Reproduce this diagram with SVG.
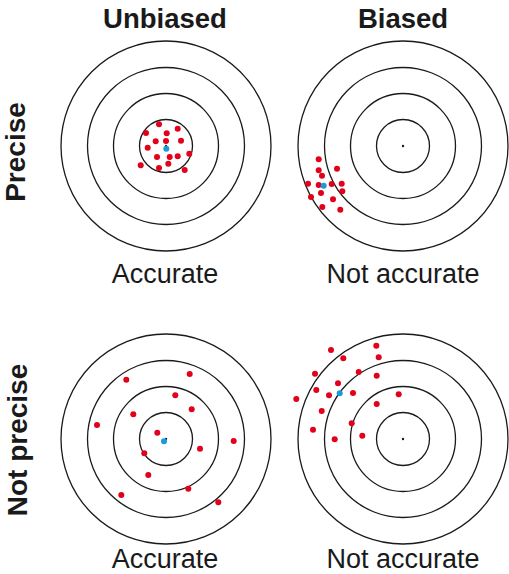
<svg xmlns="http://www.w3.org/2000/svg" width="509" height="574" viewBox="0 0 509 574">
<style>
.ring{fill:none;stroke:#1a1a1a;stroke-width:1.3}
.r{fill:#e2001a}
.b{fill:#1a9ad8}
.c{fill:#1a1a1a}
.hd{font-family:"Liberation Sans",Arial,sans-serif;font-weight:bold;font-size:27.5px;fill:#1a1a1a;text-anchor:middle}
.vl{font-family:"Liberation Sans",Arial,sans-serif;font-weight:bold;font-size:28px;fill:#1a1a1a;text-anchor:middle}
.lb{font-family:"Liberation Sans",Arial,sans-serif;font-size:27px;fill:#1a1a1a;text-anchor:middle}
</style>
<defs>
<g id="target">
<circle class="ring" r="105"/>
<circle class="ring" r="78.5"/>
<circle class="ring" r="52.5"/>
<circle class="ring" r="26.5"/>
<circle class="c" r="1.2"/>
</g>
</defs>
<rect width="509" height="574" fill="#fff"/>
<g id="headers">
<text class="hd" x="165" y="28">Unbiased</text>
<text class="hd" x="403" y="28">Biased</text>
<text class="vl" transform="translate(25,152) rotate(-90)">Precise</text>
<text class="vl" transform="translate(27,440) rotate(-90)">Not precise</text>
</g>
<g id="t1">
<use href="#target" x="166" y="146"/>
<circle class="r" cx="159" cy="124.3" r="3"/>
<circle class="r" cx="146" cy="133" r="3"/>
<circle class="r" cx="166.7" cy="133.3" r="3"/>
<circle class="r" cx="177.7" cy="128.7" r="3"/>
<circle class="r" cx="155.7" cy="141.3" r="3"/>
<circle class="r" cx="166" cy="141" r="3"/>
<circle class="r" cx="181" cy="140.7" r="3"/>
<circle class="r" cx="147.7" cy="147.7" r="3"/>
<circle class="r" cx="157" cy="157" r="3"/>
<circle class="r" cx="169.7" cy="157" r="3"/>
<circle class="r" cx="177.7" cy="156.3" r="3"/>
<circle class="r" cx="189.3" cy="153.7" r="3"/>
<circle class="r" cx="140.7" cy="165.3" r="3"/>
<circle class="r" cx="159" cy="168" r="3"/>
<circle class="r" cx="168.3" cy="163.7" r="3"/>
<circle class="r" cx="184.7" cy="170" r="3"/>
<circle class="b" cx="166.3" cy="148.7" r="3"/>
<text class="lb" x="165" y="283">Accurate</text>
</g>
<g id="t2">
<use href="#target" x="403" y="146"/>
<circle class="r" cx="318.7" cy="159.3" r="3"/>
<circle class="r" cx="318.7" cy="170.3" r="3"/>
<circle class="r" cx="337" cy="168.7" r="3"/>
<circle class="r" cx="322" cy="175.7" r="3"/>
<circle class="r" cx="308" cy="183.7" r="3"/>
<circle class="r" cx="318.7" cy="185" r="3"/>
<circle class="r" cx="331.7" cy="184" r="3"/>
<circle class="r" cx="341.7" cy="183.7" r="3"/>
<circle class="r" cx="342.3" cy="191.3" r="3"/>
<circle class="r" cx="321" cy="193" r="3"/>
<circle class="r" cx="311" cy="197" r="3"/>
<circle class="r" cx="333" cy="199.3" r="3"/>
<circle class="r" cx="322.3" cy="207" r="3"/>
<circle class="r" cx="340.3" cy="209.7" r="3"/>
<circle class="b" cx="323.7" cy="185.7" r="3"/>
<text class="lb" x="403" y="283">Not accurate</text>
</g>
<g id="t3">
<use href="#target" x="166" y="439"/>
<circle class="r" cx="189.7" cy="374" r="3"/>
<circle class="r" cx="126.3" cy="379.7" r="3"/>
<circle class="r" cx="175.3" cy="395.3" r="3"/>
<circle class="r" cx="191.7" cy="409.3" r="3"/>
<circle class="r" cx="133.3" cy="414.3" r="3"/>
<circle class="r" cx="97" cy="425" r="3"/>
<circle class="r" cx="157.3" cy="432.7" r="3"/>
<circle class="r" cx="233.7" cy="441" r="3"/>
<circle class="r" cx="144.3" cy="453.3" r="3"/>
<circle class="r" cx="200" cy="448.7" r="3"/>
<circle class="r" cx="148.3" cy="475" r="3"/>
<circle class="r" cx="188.3" cy="488.7" r="3"/>
<circle class="r" cx="121.3" cy="495" r="3"/>
<circle class="r" cx="218.3" cy="502.3" r="3"/>
<circle class="b" cx="164" cy="441.3" r="3"/>
<text class="lb" x="165" y="568">Accurate</text>
</g>
<g id="t4">
<use href="#target" x="403" y="439"/>
<circle class="r" cx="331" cy="350" r="3"/>
<circle class="r" cx="376.3" cy="345.7" r="3"/>
<circle class="r" cx="343.3" cy="358.3" r="3"/>
<circle class="r" cx="378.7" cy="357.3" r="3"/>
<circle class="r" cx="315" cy="373.7" r="3"/>
<circle class="r" cx="358.7" cy="372" r="3"/>
<circle class="r" cx="376.7" cy="375.7" r="3"/>
<circle class="r" cx="338" cy="383.3" r="3"/>
<circle class="r" cx="316.3" cy="390" r="3"/>
<circle class="r" cx="329" cy="395.3" r="3"/>
<circle class="r" cx="353" cy="393" r="3"/>
<circle class="r" cx="398.7" cy="394.3" r="3"/>
<circle class="r" cx="296.3" cy="399" r="3"/>
<circle class="r" cx="376.7" cy="404" r="3"/>
<circle class="r" cx="321.7" cy="411" r="3"/>
<circle class="r" cx="351.7" cy="423.3" r="3"/>
<circle class="r" cx="313" cy="429.7" r="3"/>
<circle class="r" cx="362.3" cy="435.7" r="3"/>
<circle class="r" cx="334.7" cy="439.3" r="3"/>
<circle class="b" cx="339.7" cy="393.3" r="3"/>
<text class="lb" x="403" y="568">Not accurate</text>
</g>
</svg>
